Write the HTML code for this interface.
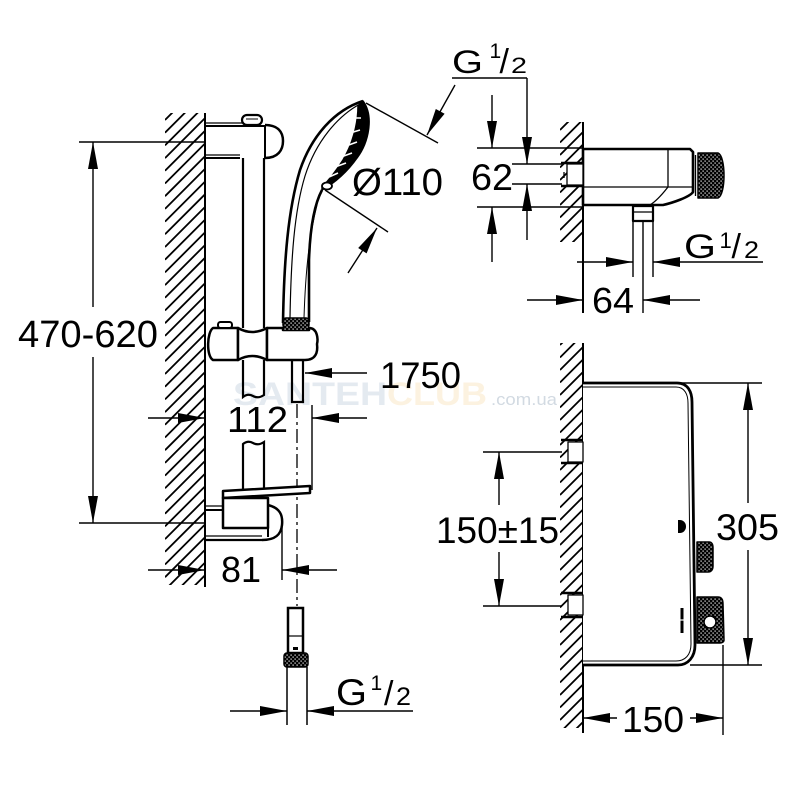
<!DOCTYPE html>
<html>
<head>
<meta charset="utf-8">
<style>
html,body{margin:0;padding:0;background:#fff;}
svg{display:block;}
text{font-family:"Liberation Sans",Arial,sans-serif;fill:#000;}
</style>
</head>
<body>
<svg width="800" height="800" viewBox="0 0 800 800" xmlns="http://www.w3.org/2000/svg">
<defs>
  <pattern id="knurl" width="4" height="4" patternUnits="userSpaceOnUse">
    <rect width="4" height="4" fill="#000"/>
    <rect x="0.5" y="0.5" width="1.2" height="1.2" fill="#fff"/>
    <rect x="2.5" y="2.5" width="1.2" height="1.2" fill="#fff"/>
  </pattern>
  <clipPath id="cl1"><rect x="165" y="113" width="40" height="472"/></clipPath>
  <clipPath id="cl2"><rect x="560" y="122" width="23" height="120"/></clipPath>
  <clipPath id="cl3"><rect x="560" y="343" width="23" height="385"/></clipPath>
</defs>
<rect width="800" height="800" fill="#fff"/>

<!-- watermark -->
<text x="233" y="405" font-size="32" font-weight="bold" style="fill:#e4eaf0" textLength="154" lengthAdjust="spacingAndGlyphs">SANTEH</text>
<text x="387" y="405" font-size="32" font-weight="bold" style="fill:#fcf2e0" textLength="100" lengthAdjust="spacingAndGlyphs">CLUB</text>
<text x="491" y="405" font-size="17" style="fill:#d2dae2" textLength="66" lengthAdjust="spacingAndGlyphs">.com.ua</text>

<!-- ============ LEFT WALL ============ -->
<g clip-path="url(#cl1)">
<path stroke="#000" stroke-width="1.8" fill="none" d="M165,120 l40,-40 M165,132.7 l40,-40 M165,145.4 l40,-40 M165,158.1 l40,-40 M165,170.8 l40,-40 M165,183.5 l40,-40 M165,196.2 l40,-40 M165,208.9 l40,-40 M165,221.6 l40,-40 M165,234.3 l40,-40 M165,247 l40,-40 M165,259.7 l40,-40 M165,272.4 l40,-40 M165,285.1 l40,-40 M165,297.8 l40,-40 M165,310.5 l40,-40 M165,323.2 l40,-40 M165,335.9 l40,-40 M165,348.6 l40,-40 M165,361.3 l40,-40 M165,374 l40,-40 M165,386.7 l40,-40 M165,399.4 l40,-40 M165,412.1 l40,-40 M165,424.8 l40,-40 M165,437.5 l40,-40 M165,450.2 l40,-40 M165,462.9 l40,-40 M165,475.6 l40,-40 M165,488.3 l40,-40 M165,501 l40,-40 M165,513.7 l40,-40 M165,526.4 l40,-40 M165,539.1 l40,-40 M165,551.8 l40,-40 M165,564.5 l40,-40 M165,577.2 l40,-40 M165,589.9 l40,-40 M165,602.6 l40,-40 M165,615.3 l40,-40 M165,628 l40,-40"/>
</g>
<line x1="205" y1="113" x2="205" y2="587" stroke="#000" stroke-width="2"/>

<g stroke="#000" stroke-width="1.4" fill="none">
  <line x1="79" y1="142" x2="205" y2="142"/>
  <line x1="79" y1="523" x2="205" y2="523"/>
  <line x1="93" y1="142" x2="93" y2="307"/>
  <line x1="93" y1="357" x2="93" y2="523"/>
  <line x1="148" y1="418" x2="205" y2="418"/>
  <line x1="312" y1="418" x2="367" y2="418"/>
  <line x1="312" y1="405" x2="312" y2="490"/>
  <line x1="305" y1="373" x2="367" y2="373"/>
  <line x1="148" y1="570" x2="205" y2="570"/>
  <line x1="282" y1="570" x2="337" y2="570"/>
  <line x1="282" y1="525" x2="282" y2="580"/>
  <line x1="366" y1="103" x2="438" y2="143"/>
  <line x1="325" y1="190" x2="388" y2="232"/>
  <line x1="455" y1="85" x2="427" y2="135"/>
  <line x1="348" y1="273" x2="377" y2="228"/>
</g>
<g fill="#000">
  <polygon points="93,142 88,169 98,169"/>
  <polygon points="93,523 88,496 98,496"/>
  <polygon points="205,418 178,413 178,423"/>
  <polygon points="312,418 339,413 339,423"/>
  <polygon points="305,373 332,368 332,378"/>
  <polygon points="205,570 178,565 178,575"/>
  <polygon points="282,570 309,565 309,575"/>
  <polygon points="427,135 444.6,113.8 435.8,109"/>
  <polygon points="377,228 366.6,253.4 358.2,248"/>
</g>

<!-- top bracket -->
<g stroke="#000" fill="none">
  <line x1="205" y1="123" x2="242" y2="123" stroke-width="1.3"/>
  <line x1="205" y1="126" x2="265" y2="126" stroke-width="2"/>
  <line x1="205" y1="155" x2="240" y2="155" stroke-width="1.3"/>
  <line x1="205" y1="158" x2="240" y2="158" stroke-width="2"/>
  <path d="M265,125 C278,125 283,132 283,141 C283,150 278,158 265,158" stroke-width="2.5"/>
  <line x1="265" y1="125" x2="265" y2="158" stroke-width="2"/>
  <rect x="242" y="115" width="20" height="10" rx="5" fill="#fff" stroke-width="2.2"/>
  <line x1="246" y1="119" x2="258" y2="119" stroke-width="1"/>
  <line x1="243" y1="158" x2="243" y2="328" stroke-width="2.2"/>
  <line x1="264" y1="158" x2="264" y2="328" stroke-width="2.2"/>
</g>

<!-- shower head -->
<g stroke="#000" fill="none" stroke-linejoin="round">
  <path d="M358,106 C358,125 352,145 343,160 C336,171 330,179 322,187 L322,190 C335,183 348,171 357,158 C369,142 374,116 363,101 Z" fill="#000" stroke-width="1.5"/>
  <path d="M361,118 L353,118 M360,130 L350,133 M357,142 L346,146 M352,153 L341,157 M346,163 L335,167 M338,173 L329,177" stroke="#fff" stroke-width="1.6"/>
  <path d="M283,323 C284,260 288,210 300,170 C312,135 335,110 363,101" stroke-width="2.6"/>
  <path d="M290,318 C291,260 294,212 305,176 C316,141 338,116 360,104" stroke-width="1.2"/>
  <path d="M322,190 C314,205 310,230 309,260 L309,322" stroke-width="2.6"/>
  <path d="M317,205 C312,225 306,255 304,318" stroke-width="1"/>
  <ellipse cx="327" cy="186" rx="5" ry="3.5" stroke-width="1.8" fill="#fff"/>
</g>
<rect x="283" y="318" width="26" height="10" rx="3" fill="url(#knurl)" stroke="#000" stroke-width="1.5"/>

<!-- slider -->
<g stroke="#000" stroke-width="2.5" fill="#fff" stroke-linejoin="round">
  <path d="M238,328 L213,328 C207,332 206,356 213,360 L238,360 Z"/>
  <path d="M238,328 Q252,336 267,328 L267,360 Q252,352 238,360 Z"/>
  <path d="M267,328 L283,328 L283,330 L309,330 L309,328 C318,328 318,340 317,344 C318,352 316,360 305,360 L267,360 Z"/>
  <rect x="218" y="322" width="14" height="6" rx="2.5" stroke-width="2"/>
</g>
<rect x="284" y="324" width="24" height="6" fill="url(#knurl)"/>

<g stroke="#000" stroke-width="2.2" fill="none">
  <path d="M243,360 L243,397 Q248,393 253,396 Q258,399 264,395 L264,360"/>
  <path d="M243,491 L243,444 Q248,440 253,443 Q258,446 264,442 L264,491"/>
  <path d="M292,360 L292,402 L303,402 L303,360"/>
</g>
<line x1="297" y1="404" x2="297" y2="606" stroke="#000" stroke-width="1.3" stroke-dasharray="14,4,3,4"/>

<!-- shelf + bottom bracket -->
<g stroke="#000" fill="#fff" stroke-linejoin="round">
  <polygon points="223,491 310,486 310,493 223,498" stroke-width="2.5"/>
  <rect x="223" y="498" width="45" height="30" stroke-width="2.5"/>
  <path d="M268,505 C280,508 283,515 282,525 C281,535 275,540 262,540" fill="none" stroke-width="2.5"/>
  <line x1="268" y1="500" x2="268" y2="537" stroke-width="2"/>
  <line x1="205" y1="506" x2="223" y2="506" stroke-width="1.3"/>
  <line x1="205" y1="510" x2="223" y2="510" stroke-width="2"/>
  <line x1="205" y1="536" x2="262" y2="536" stroke-width="1.3"/>
  <line x1="205" y1="540" x2="262" y2="540" stroke-width="2.2"/>
</g>

<!-- hose bottom -->
<g stroke="#000" fill="none">
  <rect x="288" y="608" width="15" height="45" stroke-width="2.5" fill="#fff"/>
  <line x1="288" y1="636" x2="303" y2="636" stroke-width="1.2"/>
  <line x1="287" y1="667" x2="287" y2="725" stroke-width="1.5"/>
  <line x1="307" y1="667" x2="307" y2="725" stroke-width="1.5"/>
  <line x1="230" y1="711" x2="287" y2="711" stroke-width="1.4"/>
  <line x1="307" y1="711" x2="413" y2="711" stroke-width="1.4"/>
</g>
<rect x="293" y="647" width="5" height="3" fill="#000"/>
<rect x="284" y="653" width="24" height="14" rx="3" fill="url(#knurl)" stroke="#000" stroke-width="1.5"/>
<polygon points="287,711 260,706 260,716" fill="#000"/>
<polygon points="307,711 334,706 334,716" fill="#000"/>

<!-- ============ TOP RIGHT VIEW ============ -->
<g clip-path="url(#cl2)">
<path stroke="#000" stroke-width="1.8" fill="none" d="M560,130 l23,-23 M560,142.5 l23,-23 M560,155 l23,-23 M560,167.5 l23,-23 M560,180 l23,-23 M560,192.5 l23,-23 M560,205 l23,-23 M560,217.5 l23,-23 M560,230 l23,-23 M560,242.5 l23,-23 M560,255 l23,-23 M560,267.5 l23,-23"/>
</g>
<line x1="583" y1="122" x2="583" y2="313" stroke="#000" stroke-width="2"/>
<g stroke="#000" stroke-width="1.4" fill="none">
  <line x1="452" y1="78" x2="527" y2="78"/>
  <line x1="527" y1="78" x2="527" y2="164"/>
  <line x1="527" y1="184" x2="527" y2="240"/>
  <line x1="492" y1="95" x2="492" y2="148"/>
  <line x1="492" y1="207" x2="492" y2="262"/>
  <line x1="477" y1="148" x2="583" y2="148"/>
  <line x1="477" y1="207" x2="583" y2="207"/>
  <line x1="512" y1="164" x2="562" y2="164"/>
  <line x1="512" y1="184" x2="562" y2="184"/>
  <line x1="577" y1="262" x2="633" y2="262"/>
  <line x1="653" y1="262" x2="763" y2="262"/>
  <line x1="527" y1="300" x2="583" y2="300"/>
  <line x1="643" y1="300" x2="700" y2="300"/>
  <line x1="633" y1="221" x2="633" y2="277"/>
  <line x1="643" y1="221" x2="643" y2="313"/>
  <line x1="653" y1="221" x2="653" y2="277"/>
</g>
<g fill="#000">
  <polygon points="492,148 487,121 497,121"/>
  <polygon points="492,207 487,234 497,234"/>
  <polygon points="527,164 522,137 532,137"/>
  <polygon points="527,184 522,211 532,211"/>
  <polygon points="633,262 606,257 606,267"/>
  <polygon points="653,262 680,257 680,267"/>
  <polygon points="583,300 556,295 556,305"/>
  <polygon points="643,300 670,295 670,305"/>
</g>
<g stroke="#000" fill="#fff" stroke-linejoin="round">
  <path d="M583,149 L690,149 L693,152 L693,192 C690,197 672,203 663,205 L583,205 Z" stroke-width="2.6"/>
  <line x1="583" y1="187" x2="693" y2="187" stroke-width="1.3"/>
  <line x1="668" y1="149" x2="668" y2="187" stroke-width="1.3"/>
  <path d="M650,205 C658,200 664,192 668,187" fill="none" stroke-width="1.3"/>
  <line x1="695.5" y1="155" x2="695.5" y2="196" stroke-width="1.3"/>
  <path d="M698,153 L718,153 C726,156 726,195 718,198 L698,198 Z" fill="url(#knurl)" stroke-width="1.5"/>
  <rect x="567" y="164" width="16" height="21" stroke-width="1.3"/>
  <line x1="561" y1="163" x2="583" y2="163" stroke-width="2.4"/>
  <line x1="561" y1="186" x2="583" y2="186" stroke-width="2.4"/>
  <line x1="564" y1="172" x2="564" y2="178" stroke-width="1.3"/>
  <rect x="633" y="206" width="20" height="15" stroke-width="2.2"/>
  <line x1="633" y1="212" x2="653" y2="212" stroke-width="1.2"/>
</g>

<!-- ============ BOTTOM RIGHT VIEW ============ -->
<g clip-path="url(#cl3)">
<path stroke="#000" stroke-width="1.8" fill="none" d="M560,345 l23,-23 M560,357.5 l23,-23 M560,370 l23,-23 M560,382.5 l23,-23 M560,395 l23,-23 M560,407.5 l23,-23 M560,420 l23,-23 M560,432.5 l23,-23 M560,445 l23,-23 M560,457.5 l23,-23 M560,470 l23,-23 M560,482.5 l23,-23 M560,495 l23,-23 M560,507.5 l23,-23 M560,520 l23,-23 M560,532.5 l23,-23 M560,545 l23,-23 M560,557.5 l23,-23 M560,570 l23,-23 M560,582.5 l23,-23 M560,595 l23,-23 M560,607.5 l23,-23 M560,620 l23,-23 M560,632.5 l23,-23 M560,645 l23,-23 M560,657.5 l23,-23 M560,670 l23,-23 M560,682.5 l23,-23 M560,695 l23,-23 M560,707.5 l23,-23 M560,720 l23,-23 M560,732.5 l23,-23 M560,745 l23,-23 M560,757.5 l23,-23"/>
</g>
<line x1="583" y1="343" x2="583" y2="733" stroke="#000" stroke-width="2"/>
<g stroke="#000" fill="#fff" stroke-linejoin="round">
  <path d="M583,383 L677,383 C688,383 692,392 692,402 L695,645 C695,657 688,665 678,665 L583,665" stroke-width="2.8"/>
  <path d="M583,387 L676,387 C685,387 688,395 688,403 L691,644 C691,655 685,661 676,661 L583,661" fill="none" stroke-width="1"/>
  <rect x="568" y="442" width="15" height="20" stroke-width="1.3"/>
  <line x1="561" y1="440" x2="583" y2="440" stroke-width="2.4"/>
  <line x1="561" y1="463" x2="583" y2="463" stroke-width="2.4"/>
  <rect x="568" y="595" width="15" height="20" stroke-width="1.3"/>
  <line x1="561" y1="593" x2="583" y2="593" stroke-width="2.4"/>
  <line x1="561" y1="617" x2="583" y2="617" stroke-width="2.4"/>
  <path d="M697,542 L709,542 C713,542 713,546 713,548 L713,566 C713,570 711,572 708,572 L697,572 Z" fill="url(#knurl)" stroke-width="1.5"/>
  <path d="M697,597 L718,597 C722,597 723,600 723,604 L724,640 C724,642 722,643 720,643 L697,643 Z" fill="url(#knurl)" stroke-width="1.5"/>
  <circle cx="710" cy="622" r="6" stroke-width="1.5"/>
</g>
<path d="M678,520 L680,520 A6,6.5 0 0 1 680,533 L678,533 Z" fill="#000"/>
<line x1="682" y1="608" x2="682" y2="633" stroke="#000" stroke-width="3"/>
<line x1="679" y1="620" x2="685" y2="620" stroke="#fff" stroke-width="1.2"/>
<g stroke="#000" stroke-width="1.4" fill="none">
  <line x1="680" y1="383" x2="762" y2="383"/>
  <line x1="690" y1="665" x2="762" y2="665"/>
  <line x1="748" y1="383" x2="748" y2="503"/>
  <line x1="748" y1="550" x2="748" y2="665"/>
  <line x1="483" y1="452" x2="562" y2="452"/>
  <line x1="483" y1="606" x2="562" y2="606"/>
  <line x1="499" y1="452" x2="499" y2="505"/>
  <line x1="499" y1="552" x2="499" y2="606"/>
  <line x1="583" y1="718" x2="617" y2="718"/>
  <line x1="690" y1="718" x2="723" y2="718"/>
  <line x1="723" y1="645" x2="723" y2="735"/>
</g>
<g fill="#000">
  <polygon points="748,383 743,410 753,410"/>
  <polygon points="748,665 743,638 753,638"/>
  <polygon points="499,452 494,479 504,479"/>
  <polygon points="499,606 494,579 504,579"/>
  <polygon points="583,718 610,713 610,723"/>
  <polygon points="723,718 696,713 696,723"/>
</g>

<!-- ============ TEXT ============ -->
<text x="18" y="347" font-size="38" textLength="140" lengthAdjust="spacingAndGlyphs">470-620</text>
<text x="352" y="195" font-size="38" textLength="91" lengthAdjust="spacingAndGlyphs">Ø110</text>
<text x="380" y="388" font-size="37" textLength="81" lengthAdjust="spacingAndGlyphs">1750</text>
<text x="227" y="432" font-size="36" textLength="61" lengthAdjust="spacingAndGlyphs">112</text>
<text x="221" y="582" font-size="36" textLength="40" lengthAdjust="spacingAndGlyphs">81</text>
<text x="471" y="190" font-size="37" textLength="42" lengthAdjust="spacingAndGlyphs">62</text>
<text x="592" y="313" font-size="36" textLength="42" lengthAdjust="spacingAndGlyphs">64</text>
<text x="436" y="543" font-size="37" textLength="123" lengthAdjust="spacingAndGlyphs">150±15</text>
<text x="716" y="540" font-size="37" textLength="63" lengthAdjust="spacingAndGlyphs">305</text>
<text x="622" y="732" font-size="36" textLength="62" lengthAdjust="spacingAndGlyphs">150</text>

<text x="452" y="73" font-size="32" textLength="31" lengthAdjust="spacingAndGlyphs">G</text>
<text x="489.5" y="58" font-size="21">1</text>
<text x="499.5" y="73" font-size="34">/</text>
<text x="511" y="73" font-size="22" textLength="16" lengthAdjust="spacingAndGlyphs">2</text>

<text x="684" y="258" font-size="34" textLength="32" lengthAdjust="spacingAndGlyphs">G</text>
<text x="719.5" y="248" font-size="22">1</text>
<text x="731.5" y="258" font-size="34">/</text>
<text x="744" y="258" font-size="24" textLength="15" lengthAdjust="spacingAndGlyphs">2</text>

<text x="336" y="705" font-size="37" textLength="31" lengthAdjust="spacingAndGlyphs">G</text>
<text x="370.5" y="690" font-size="21">1</text>
<text x="384" y="705" font-size="34">/</text>
<text x="396" y="705" font-size="25" textLength="15" lengthAdjust="spacingAndGlyphs">2</text>
</svg>
</body>
</html>
